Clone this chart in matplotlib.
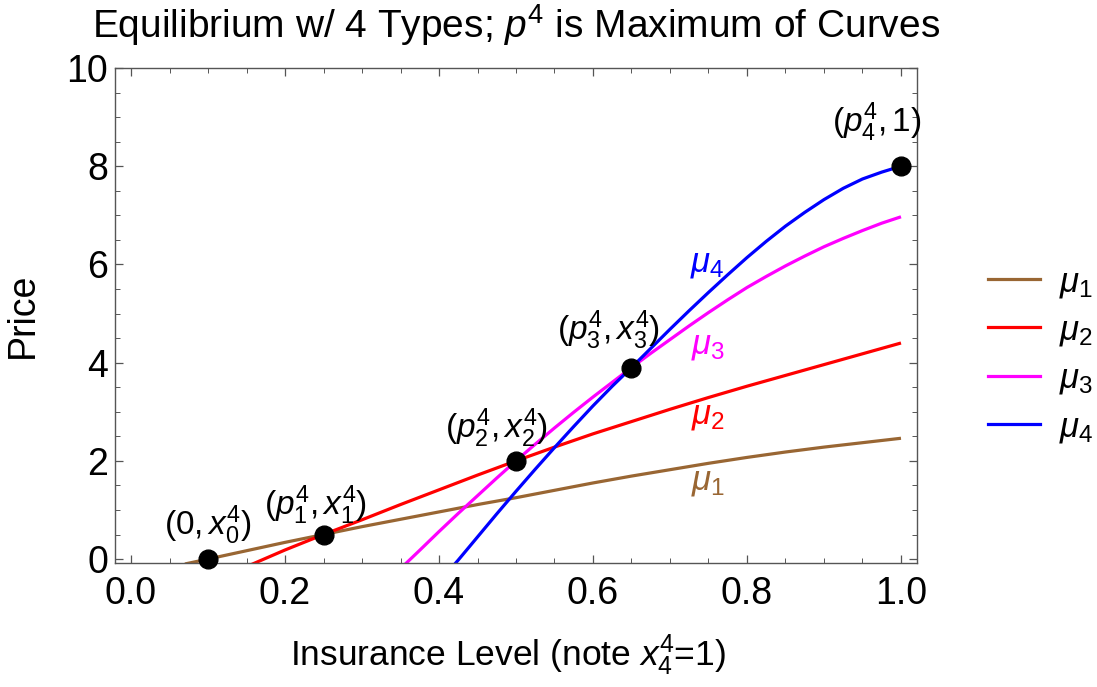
import matplotlib
matplotlib.use("Agg")
import matplotlib.pyplot as plt
from matplotlib.ticker import MultipleLocator, FormatStrFormatter
from matplotlib.lines import Line2D

# =========================
# data
# =========================
x_mu1 = [0.07, 0.10, 0.15, 0.20, 0.25, 0.30, 0.35, 0.40, 0.45, 0.50, 0.55, 0.60, 0.65, 0.70, 0.75, 0.80, 0.85, 0.90, 0.95, 1.00]
y_mu1 = [-0.10, 0.00, 0.17, 0.34, 0.50, 0.66, 0.81, 0.96, 1.11, 1.25, 1.40, 1.55, 1.69, 1.82, 1.95, 2.07, 2.18, 2.28, 2.37, 2.46]

x_mu2 = [0.155, 0.20, 0.25, 0.30, 0.35, 0.40, 0.45, 0.50, 0.55, 0.60, 0.65, 0.70, 0.75, 0.80, 0.85, 0.90, 0.95, 1.00]
y_mu2 = [-0.12, 0.185, 0.50, 0.80, 1.11, 1.41, 1.71, 2.00, 2.28, 2.55, 2.80, 3.05, 3.29, 3.52, 3.74, 3.96, 4.18, 4.40]

x_mu3 = [0.355, 0.375, 0.40, 0.425, 0.45, 0.475, 0.50, 0.525, 0.55, 0.575, 0.60, 0.625, 0.65,
         0.675, 0.70, 0.725, 0.75, 0.775, 0.80, 0.825, 0.85, 0.875, 0.90, 0.925, 0.95, 0.975, 1.00]
y_mu3 = [-0.12, 0.18, 0.56, 0.93, 1.29, 1.65, 2.00, 2.34, 2.67, 2.99, 3.30, 3.60, 3.90,
         4.19, 4.47, 4.75, 5.02, 5.28, 5.53, 5.755, 5.97, 6.17, 6.36, 6.53, 6.69, 6.84, 6.97]

x_mu4 = [0.42, 0.425, 0.45, 0.475, 0.50, 0.525, 0.55, 0.575, 0.60, 0.625, 0.65,
         0.675, 0.70, 0.725, 0.75, 0.775, 0.80, 0.825, 0.85, 0.875, 0.90, 0.925, 0.95, 0.975, 1.00]
y_mu4 = [-0.11, -0.02, 0.45, 0.92, 1.38, 1.83, 2.27, 2.70, 3.12, 3.52, 3.90,
         4.29, 4.68, 5.06, 5.43, 5.79, 6.14, 6.47, 6.78, 7.06, 7.32, 7.55, 7.74, 7.88, 8.00]

pt_x = [0.10, 0.25, 0.50, 0.65, 1.00]
pt_y = [0.00, 0.50, 2.00, 3.90, 8.00]
pt_labels = [r"$(0,x_0^4)$", r"$(p_1^4,x_1^4)$", r"$(p_2^4,x_2^4)$", r"$(p_3^4,x_3^4)$", r"$(p_4^4,1)$"]
pt_label_x = [0.100, 0.239, 0.475, 0.620, 0.968]
pt_label_y = [0.68, 1.10, 2.66, 4.66, 8.90]

curve_names = [r"$\mu_1$", r"$\mu_2$", r"$\mu_3$", r"$\mu_4$"]
curve_colors = ["#996633", "#ff0000", "#ff00ff", "#0000ff"]
curve_label_x = [0.749, 0.749, 0.749, 0.749]
curve_label_y = [1.57, 2.93, 4.34, 6.01]

# =========================
# style
# =========================
plt.rcParams["font.family"] = ["Liberation Sans", "DejaVu Sans"]
plt.rcParams["mathtext.fontset"] = "custom"
plt.rcParams["mathtext.rm"] = "Liberation Sans"
plt.rcParams["mathtext.it"] = "Liberation Sans:italic"
plt.rcParams["mathtext.bf"] = "Liberation Sans:bold"

FS_TICK = 27
FS_LAB = 26
FS_PT = 24
FS_MU = 25
frame_col = "#555555"

fig = plt.figure(figsize=(10.97, 6.87), dpi=100)
ax = fig.add_axes([115 / 1097, 1 - 563 / 687, (917 - 115) / 1097, (563 - 68) / 687])

lw = 2.3
ax.plot(x_mu1, y_mu1, color=curve_colors[0], lw=lw, solid_capstyle="butt")
ax.plot(x_mu2, y_mu2, color=curve_colors[1], lw=lw, solid_capstyle="butt")
ax.plot(x_mu3, y_mu3, color=curve_colors[2], lw=lw, solid_capstyle="butt")
ax.plot(x_mu4, y_mu4, color=curve_colors[3], lw=lw, solid_capstyle="butt")

ax.plot(pt_x, pt_y, "o", color="black", ms=13.5, zorder=5, clip_on=False)

# point labels
for tx, ty, lab in zip(pt_label_x, pt_label_y, pt_labels):
    ax.text(tx, ty, lab, fontsize=FS_PT, ha="center", va="center", color="black")

# curve labels
for tx, ty, lab, c in zip(curve_label_x, curve_label_y, curve_names, curve_colors):
    ax.text(tx, ty, lab, color=c, fontsize=FS_MU, ha="center", va="center")

ax.set_xlim(-0.0208, 1.0208)
ax.set_ylim(-0.08, 10.0)

ax.xaxis.set_major_locator(MultipleLocator(0.2))
ax.xaxis.set_minor_locator(MultipleLocator(0.05))
ax.yaxis.set_major_locator(MultipleLocator(2))
ax.yaxis.set_minor_locator(MultipleLocator(0.5))
ax.xaxis.set_major_formatter(FormatStrFormatter("%.1f"))
ax.yaxis.set_major_formatter(FormatStrFormatter("%d"))

ax.tick_params(which="both", direction="in", top=True, right=True, color=frame_col,
               labelsize=FS_TICK, labelcolor="black")
ax.tick_params(which="major", length=6, width=0.9)
ax.tick_params(which="minor", length=3.5, width=0.7)
ax.tick_params(axis="x", which="major", pad=9)
ax.tick_params(axis="y", which="major", pad=5)
for s in ax.spines.values():
    s.set_color(frame_col)
    s.set_linewidth(1.0)

ax.set_title(r"Equilibrium w/ 4 Types; $p^4$ is Maximum of Curves", fontsize=28, pad=22)
ax.set_xlabel(r"Insurance Level (note $x_4^4$=1)", fontsize=25.5)
ax.xaxis.set_label_coords(0.49, -0.14)
ax.set_ylabel("Price", fontsize=FS_LAB + 1, labelpad=18)

handles = [Line2D([0], [0], color=c, lw=lw) for c in curve_colors]
fig.legend(handles, curve_names, loc="center left", bbox_to_anchor=(988 / 1097, 1 - 355 / 687),
           frameon=False, fontsize=FS_MU, handlelength=1.5, handletextpad=0.55,
           labelspacing=0.4, borderpad=0, borderaxespad=0)

fig.savefig("out.png", dpi=100)
